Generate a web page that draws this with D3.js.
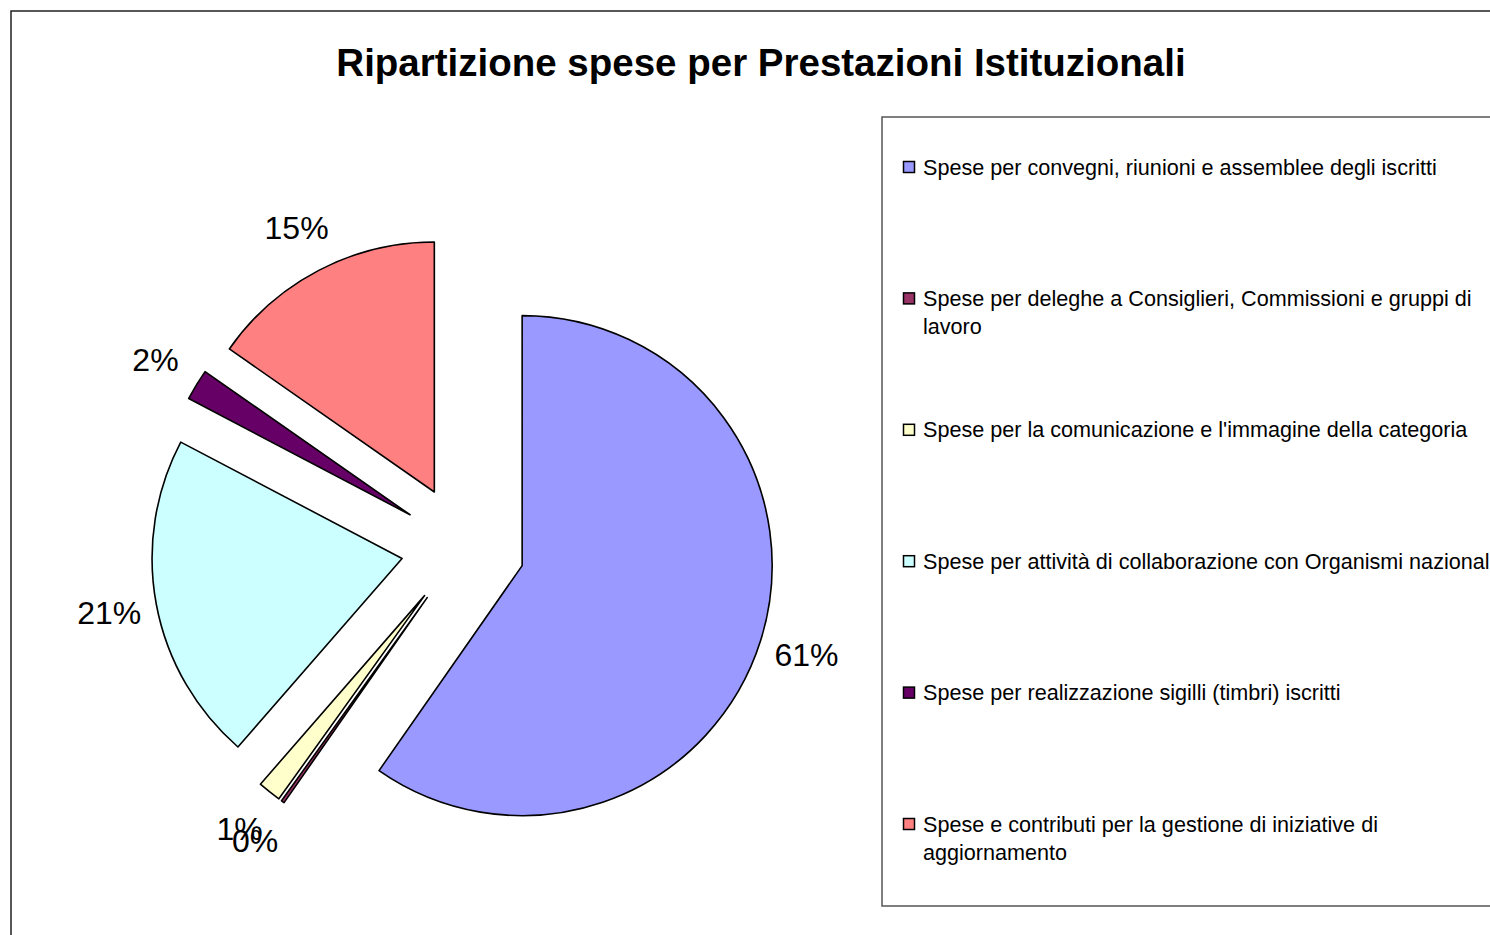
<!DOCTYPE html>
<html>
<head>
<meta charset="utf-8">
<script src="https://cdn.jsdelivr.net/npm/d3@7"></script>
<style>
  html, body { margin: 0; padding: 0; background: #fff; overflow: hidden; }
  svg { display: block; font-family: "Liberation Sans", Arial, sans-serif; }
</style>
</head>
<body>
<svg id="chart" width="1490" height="935"></svg>
<script>
const title = "Ripartizione spese per Prestazioni Istituzionali";
const categories = [
  ["Spese per convegni, riunioni e assemblee degli iscritti"],
  ["Spese per deleghe a Consiglieri, Commissioni e gruppi di", "lavoro"],
  ["Spese per la comunicazione e l'immagine della categoria"],
  ["Spese per attività di collaborazione con Organismi nazionali"],
  ["Spese per realizzazione sigilli (timbri) iscritti"],
  ["Spese e contributi per la gestione di iniziative di", "aggiornamento"]
];
const values = [59.7, 0.2, 1.5, 21.3, 2.0, 15.3];
const percentLabels = ["61%", "0%", "1%", "21%", "2%", "15%"];
const colors = ["#9999FF", "#993366", "#FFFFCC", "#CCFFFF", "#660066", "#FF8080"];

const svg = d3.select("#chart");

// outer chart border
svg.append("rect").attr("x", 11).attr("y", 11).attr("width", 1500).attr("height", 1000)
  .attr("fill", "none").attr("stroke", "#222").attr("stroke-width", 1.5);

// title
svg.append("text").attr("x", 761).attr("y", 76).attr("text-anchor", "middle")
  .attr("font-size", 38.5).attr("font-weight", "bold").attr("fill", "#000").text(title);

// pie
const cx = 463, cy = 547, radius = 250, explode = 62, labelR = 360;
const pie = d3.pie().sort(null).value(d => d)(values);
const arc = d3.arc().innerRadius(0).outerRadius(radius);
const g = svg.append("g").attr("transform", `translate(${cx},${cy})`);

g.selectAll("path.slice").data(pie).join("path")
  .attr("class", "slice")
  .attr("transform", d => {
    const m = (d.startAngle + d.endAngle) / 2;
    return `translate(${explode * Math.sin(m)},${-explode * Math.cos(m)})`;
  })
  .attr("d", arc)
  .attr("fill", (d, i) => colors[i])
  .attr("stroke", "#000").attr("stroke-width", 1.6).attr("stroke-linejoin", "round");

g.selectAll("text.pct").data(pie).join("text")
  .attr("class", "pct")
  .attr("x", d => labelR * Math.sin((d.startAngle + d.endAngle) / 2))
  .attr("y", d => -labelR * Math.cos((d.startAngle + d.endAngle) / 2))
  .attr("text-anchor", "middle").attr("dominant-baseline", "central")
  .attr("font-size", 32).attr("fill", "#000")
  .text((d, i) => percentLabels[i]);

// legend
svg.append("rect").attr("x", 882).attr("y", 117).attr("width", 700).attr("height", 789)
  .attr("fill", "#fff").attr("stroke", "#555").attr("stroke-width", 1.5);

const legendY = d3.scaleLinear().domain([0, 5]).range([167, 824]);
const lg = svg.append("g");
categories.forEach((lines, i) => {
  const y = legendY(i);
  lg.append("rect").attr("x", 903.5).attr("y", y - 5.5).attr("width", 11).attr("height", 11)
    .attr("fill", colors[i]).attr("stroke", "#000").attr("stroke-width", 1.5);
  lines.forEach((t, j) => {
    lg.append("text").attr("x", 923).attr("y", y + j * 28)
      .attr("dominant-baseline", "central").attr("font-size", 21.6).attr("fill", "#000").text(t);
  });
});
</script>
</body>
</html>
